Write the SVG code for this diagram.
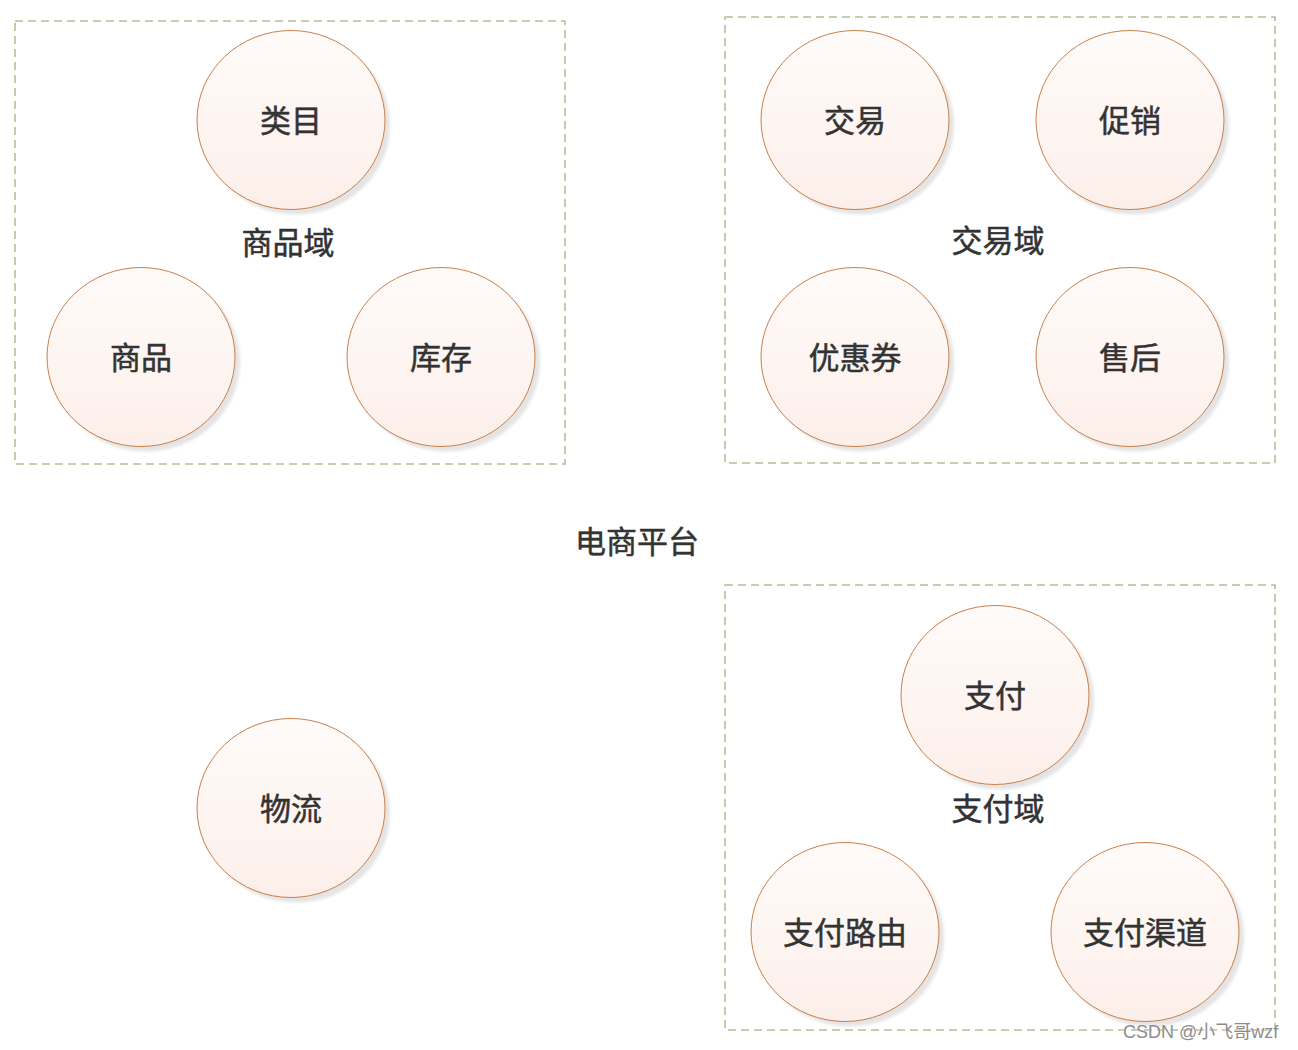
<svg xmlns="http://www.w3.org/2000/svg" width="1298" height="1050" viewBox="0 0 1298 1050">
<defs>
<linearGradient id="g" x1="0" y1="0" x2="0" y2="1">
<stop offset="0" stop-color="#fffbf9"/>
<stop offset="1" stop-color="#fcefea"/>
</linearGradient>
<filter id="blur" x="-10%" y="-10%" width="120%" height="120%"><feGaussianBlur stdDeviation="1.5"/></filter>
<style>
.box{fill:none;stroke:#b3bf98;stroke-width:1.6;stroke-dasharray:8 5}
.sh{fill:#e4e4e4;filter:url(#blur)}
.c{fill:url(#g);stroke:#c8804c;stroke-width:1}
.t{font-family:"Noto Sans CJK SC","Noto Sans",sans-serif;font-size:31px;fill:#333;stroke:#333;stroke-width:0.5;text-anchor:middle;dominant-baseline:central}
.wm{font-family:"Liberation Sans","Noto Sans CJK SC",sans-serif;font-size:18px;fill:#8c8c8c;stroke:#fff;stroke-width:0.6;paint-order:stroke}
</style>
</defs>
<rect width="1298" height="1050" fill="#fff"/>
<g id="domain-goods">
<rect class="box" x="15" y="21" width="550" height="443"/>
<text class="t" x="288" y="240">商品域</text>
</g>
<g id="domain-trade">
<rect class="box" x="725" y="17" width="550" height="446"/>
<text class="t" x="998" y="238">交易域</text>
</g>
<g id="domain-pay">
<rect class="box" x="725" y="585" width="550" height="445"/>
<text class="t" x="998" y="806">支付域</text>
</g>
<g id="platform"><text class="t" x="637" y="539">电商平台</text></g>
<g id="n-category"><ellipse class="sh" cx="296" cy="125" rx="94" ry="89.5"/><ellipse class="c" cx="291" cy="120" rx="94" ry="89.5"/><text class="t" x="291" y="118">类目</text></g>
<g id="n-goods"><ellipse class="sh" cx="146" cy="362" rx="94" ry="89.5"/><ellipse class="c" cx="141" cy="357" rx="94" ry="89.5"/><text class="t" x="141" y="355">商品</text></g>
<g id="n-stock"><ellipse class="sh" cx="446" cy="362" rx="94" ry="89.5"/><ellipse class="c" cx="441" cy="357" rx="94" ry="89.5"/><text class="t" x="441" y="355">库存</text></g>
<g id="n-trade"><ellipse class="sh" cx="860" cy="125" rx="94" ry="89.5"/><ellipse class="c" cx="855" cy="120" rx="94" ry="89.5"/><text class="t" x="855" y="118">交易</text></g>
<g id="n-promo"><ellipse class="sh" cx="1135" cy="125" rx="94" ry="89.5"/><ellipse class="c" cx="1130" cy="120" rx="94" ry="89.5"/><text class="t" x="1130" y="118">促销</text></g>
<g id="n-coupon"><ellipse class="sh" cx="860" cy="362" rx="94" ry="89.5"/><ellipse class="c" cx="855" cy="357" rx="94" ry="89.5"/><text class="t" x="855" y="355">优惠券</text></g>
<g id="n-aftersale"><ellipse class="sh" cx="1135" cy="362" rx="94" ry="89.5"/><ellipse class="c" cx="1130" cy="357" rx="94" ry="89.5"/><text class="t" x="1130" y="355">售后</text></g>
<g id="n-pay"><ellipse class="sh" cx="1000" cy="700" rx="94" ry="89.5"/><ellipse class="c" cx="995" cy="695" rx="94" ry="89.5"/><text class="t" x="995" y="693">支付</text></g>
<g id="n-payroute"><ellipse class="sh" cx="850" cy="937" rx="94" ry="89.5"/><ellipse class="c" cx="845" cy="932" rx="94" ry="89.5"/><text class="t" x="845" y="930">支付路由</text></g>
<g id="n-paychannel"><ellipse class="sh" cx="1150" cy="937" rx="94" ry="89.5"/><ellipse class="c" cx="1145" cy="932" rx="94" ry="89.5"/><text class="t" x="1145" y="930">支付渠道</text></g>
<g id="n-logistics"><ellipse class="sh" cx="296" cy="813" rx="94" ry="89.5"/><ellipse class="c" cx="291" cy="808" rx="94" ry="89.5"/><text class="t" x="291" y="806">物流</text></g>
<g id="connectors"></g>
<text class="wm" x="1123" y="1038">CSDN @小飞哥wzf</text>
</svg>
